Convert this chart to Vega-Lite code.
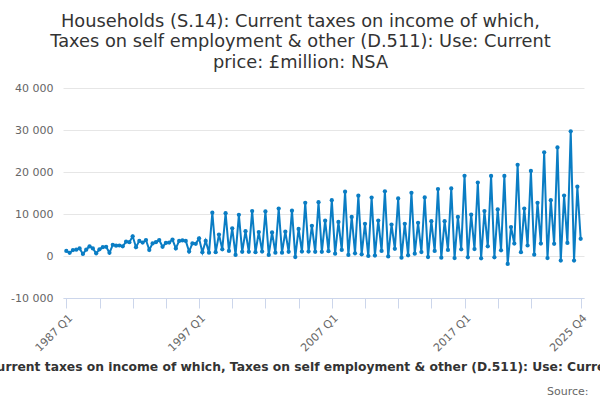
{
  "$schema": "https://vega.github.io/schema/vega-lite/v6.json",
  "width": 521,
  "height": 210,
  "autosize": {"type": "none"},
  "padding": {"left": 63, "top": 88, "right": 16, "bottom": 102},
  "background": "white",
  "config": {"view": {"stroke": null}, "font": "DejaVu Sans"},
  "title": {
    "text": [
      "Households (S.14): Current taxes on income of which,",
      "Taxes on self employment & other (D.511): Use: Current",
      "price: £million: NSA"
    ],
    "fontSize": 17.8,
    "fontWeight": "normal",
    "color": "#333333",
    "anchor": "middle",
    "frame": "group",
    "dx": -23,
    "offset": 10,
    "lineHeight": 20.7
  },
  "data": {
    "values": [
      {"quarter": "1987 Q1", "value": 1200}, {"quarter": "1987 Q2", "value": 750}, {"quarter": "1987 Q3", "value": 1400}, {"quarter": "1987 Q4", "value": 1500},
      {"quarter": "1988 Q1", "value": 1800}, {"quarter": "1988 Q2", "value": 500}, {"quarter": "1988 Q3", "value": 1500}, {"quarter": "1988 Q4", "value": 2300},
      {"quarter": "1989 Q1", "value": 1800}, {"quarter": "1989 Q2", "value": 650}, {"quarter": "1989 Q3", "value": 1600}, {"quarter": "1989 Q4", "value": 2100},
      {"quarter": "1990 Q1", "value": 2200}, {"quarter": "1990 Q2", "value": 750}, {"quarter": "1990 Q3", "value": 2650}, {"quarter": "1990 Q4", "value": 2450},
      {"quarter": "1991 Q1", "value": 2500}, {"quarter": "1991 Q2", "value": 2300}, {"quarter": "1991 Q3", "value": 3400}, {"quarter": "1991 Q4", "value": 3300},
      {"quarter": "1992 Q1", "value": 4700}, {"quarter": "1992 Q2", "value": 2100}, {"quarter": "1992 Q3", "value": 3600}, {"quarter": "1992 Q4", "value": 3200},
      {"quarter": "1993 Q1", "value": 3800}, {"quarter": "1993 Q2", "value": 1450}, {"quarter": "1993 Q3", "value": 3000}, {"quarter": "1993 Q4", "value": 3300},
      {"quarter": "1994 Q1", "value": 3800}, {"quarter": "1994 Q2", "value": 2200}, {"quarter": "1994 Q3", "value": 3100}, {"quarter": "1994 Q4", "value": 3200},
      {"quarter": "1995 Q1", "value": 3900}, {"quarter": "1995 Q2", "value": 1800}, {"quarter": "1995 Q3", "value": 3600}, {"quarter": "1995 Q4", "value": 3700},
      {"quarter": "1996 Q1", "value": 3600}, {"quarter": "1996 Q2", "value": 1050}, {"quarter": "1996 Q3", "value": 3000}, {"quarter": "1996 Q4", "value": 2900},
      {"quarter": "1997 Q1", "value": 4200}, {"quarter": "1997 Q2", "value": 900}, {"quarter": "1997 Q3", "value": 3600}, {"quarter": "1997 Q4", "value": 800},
      {"quarter": "1998 Q1", "value": 10300}, {"quarter": "1998 Q2", "value": 900}, {"quarter": "1998 Q3", "value": 5100}, {"quarter": "1998 Q4", "value": 1600},
      {"quarter": "1999 Q1", "value": 10200}, {"quarter": "1999 Q2", "value": 1200}, {"quarter": "1999 Q3", "value": 6600}, {"quarter": "1999 Q4", "value": 250},
      {"quarter": "2000 Q1", "value": 9800}, {"quarter": "2000 Q2", "value": 1000}, {"quarter": "2000 Q3", "value": 5900}, {"quarter": "2000 Q4", "value": 1000},
      {"quarter": "2001 Q1", "value": 10700}, {"quarter": "2001 Q2", "value": 900}, {"quarter": "2001 Q3", "value": 5700}, {"quarter": "2001 Q4", "value": 1050},
      {"quarter": "2002 Q1", "value": 10600}, {"quarter": "2002 Q2", "value": 250}, {"quarter": "2002 Q3", "value": 5600}, {"quarter": "2002 Q4", "value": 800},
      {"quarter": "2003 Q1", "value": 11300}, {"quarter": "2003 Q2", "value": 800}, {"quarter": "2003 Q3", "value": 5800}, {"quarter": "2003 Q4", "value": 1000},
      {"quarter": "2004 Q1", "value": 10800}, {"quarter": "2004 Q2", "value": -250}, {"quarter": "2004 Q3", "value": 6450}, {"quarter": "2004 Q4", "value": 1050},
      {"quarter": "2005 Q1", "value": 12650}, {"quarter": "2005 Q2", "value": 1050}, {"quarter": "2005 Q3", "value": 7200}, {"quarter": "2005 Q4", "value": 1000},
      {"quarter": "2006 Q1", "value": 12800}, {"quarter": "2006 Q2", "value": 1000}, {"quarter": "2006 Q3", "value": 8400}, {"quarter": "2006 Q4", "value": 1150},
      {"quarter": "2007 Q1", "value": 13300}, {"quarter": "2007 Q2", "value": 550}, {"quarter": "2007 Q3", "value": 8100}, {"quarter": "2007 Q4", "value": 1450},
      {"quarter": "2008 Q1", "value": 15300}, {"quarter": "2008 Q2", "value": 250}, {"quarter": "2008 Q3", "value": 9300}, {"quarter": "2008 Q4", "value": 650},
      {"quarter": "2009 Q1", "value": 14350}, {"quarter": "2009 Q2", "value": 400}, {"quarter": "2009 Q3", "value": 7650}, {"quarter": "2009 Q4", "value": 0},
      {"quarter": "2010 Q1", "value": 13900}, {"quarter": "2010 Q2", "value": 100}, {"quarter": "2010 Q3", "value": 8450}, {"quarter": "2010 Q4", "value": 1200},
      {"quarter": "2011 Q1", "value": 15400}, {"quarter": "2011 Q2", "value": -100}, {"quarter": "2011 Q3", "value": 7500}, {"quarter": "2011 Q4", "value": 1700},
      {"quarter": "2012 Q1", "value": 13700}, {"quarter": "2012 Q2", "value": -400}, {"quarter": "2012 Q3", "value": 7650}, {"quarter": "2012 Q4", "value": 150},
      {"quarter": "2013 Q1", "value": 15050}, {"quarter": "2013 Q2", "value": 550}, {"quarter": "2013 Q3", "value": 7900}, {"quarter": "2013 Q4", "value": 950},
      {"quarter": "2014 Q1", "value": 13950}, {"quarter": "2014 Q2", "value": -250}, {"quarter": "2014 Q3", "value": 8300}, {"quarter": "2014 Q4", "value": 1200},
      {"quarter": "2015 Q1", "value": 15950}, {"quarter": "2015 Q2", "value": -400}, {"quarter": "2015 Q3", "value": 8300}, {"quarter": "2015 Q4", "value": 1450},
      {"quarter": "2016 Q1", "value": 16100}, {"quarter": "2016 Q2", "value": -500}, {"quarter": "2016 Q3", "value": 9300}, {"quarter": "2016 Q4", "value": 1600},
      {"quarter": "2017 Q1", "value": 19100}, {"quarter": "2017 Q2", "value": -300}, {"quarter": "2017 Q3", "value": 9850}, {"quarter": "2017 Q4", "value": 1650},
      {"quarter": "2018 Q1", "value": 17500}, {"quarter": "2018 Q2", "value": -550}, {"quarter": "2018 Q3", "value": 10700}, {"quarter": "2018 Q4", "value": 2300},
      {"quarter": "2019 Q1", "value": 19050}, {"quarter": "2019 Q2", "value": -300}, {"quarter": "2019 Q3", "value": 11100}, {"quarter": "2019 Q4", "value": 1350},
      {"quarter": "2020 Q1", "value": 19050}, {"quarter": "2020 Q2", "value": -1900}, {"quarter": "2020 Q3", "value": 6900}, {"quarter": "2020 Q4", "value": 2950},
      {"quarter": "2021 Q1", "value": 21700}, {"quarter": "2021 Q2", "value": 900}, {"quarter": "2021 Q3", "value": 11300}, {"quarter": "2021 Q4", "value": 2500},
      {"quarter": "2022 Q1", "value": 20250}, {"quarter": "2022 Q2", "value": 300}, {"quarter": "2022 Q3", "value": 12650}, {"quarter": "2022 Q4", "value": 2950},
      {"quarter": "2023 Q1", "value": 24700}, {"quarter": "2023 Q2", "value": -500}, {"quarter": "2023 Q3", "value": 13300}, {"quarter": "2023 Q4", "value": 2900},
      {"quarter": "2024 Q1", "value": 25850}, {"quarter": "2024 Q2", "value": -1100}, {"quarter": "2024 Q3", "value": 14400}, {"quarter": "2024 Q4", "value": 3100},
      {"quarter": "2025 Q1", "value": 29700}, {"quarter": "2025 Q2", "value": -1100}, {"quarter": "2025 Q3", "value": 16500}, {"quarter": "2025 Q4", "value": 4100}
    ]
  },
  "mark": {
    "type": "line",
    "color": "#0a7dc4",
    "strokeWidth": 2,
    "point": {"filled": true, "size": 18, "color": "#0a7dc4"}
  },
  "encoding": {
    "x": {
      "field": "quarter",
      "type": "ordinal",
      "sort": null,
      "scale": {"type": "point", "padding": 1},
      "axis": {
        "title": "Households (S.14): Current taxes on income of which, Taxes on self employment & other (D.511): Use: Current price: £million: NSA",
        "titleFontSize": 12.3,
        "titleFontWeight": "bold",
        "titleColor": "#333333",
        "titleX": 243,
        "titleY": 72,
        "titleAlign": "center",
        "titleBaseline": "alphabetic",
        "values": ["1987 Q1", "1989 Q3", "1992 Q1", "1994 Q3", "1997 Q1", "1999 Q3", "2002 Q1", "2004 Q3", "2007 Q1", "2009 Q3", "2012 Q1", "2014 Q3", "2017 Q1", "2019 Q3", "2022 Q1", "2025 Q4"],
        "labelExpr": "indexof(['1987 Q1','1997 Q1','2007 Q1','2017 Q1','2025 Q4'], datum.value) >= 0 ? datum.value : ''",
        "labelAngle": -45,
        "labelFontSize": 11,
        "labelColor": "#666666",
        "labelOverlap": false,
        "labelPadding": 4,
        "domainColor": "#ccd6eb",
        "tickColor": "#ccd6eb",
        "tickSize": 10,
        "grid": false
      }
    },
    "y": {
      "field": "value",
      "type": "quantitative",
      "scale": {"domain": [-10000, 40000], "nice": false},
      "axis": {
        "title": "Source:",
        "titleAngle": 0,
        "titleX": 525,
        "titleY": 306,
        "titleAlign": "right",
        "titleBaseline": "alphabetic",
        "titleFontWeight": "normal",
        "titleFontSize": 11,
        "titleColor": "#666666",
        "values": [-10000, 0, 10000, 20000, 30000, 40000],
        "labelExpr": "replace(replace(format(datum.value, ','), ',', ' '), '−', '-')",
        "labelFontSize": 11,
        "labelColor": "#666666",
        "domain": false,
        "ticks": false,
        "labelPadding": 10,
        "gridColor": "#e6e6e6"
      }
    }
  }
}
